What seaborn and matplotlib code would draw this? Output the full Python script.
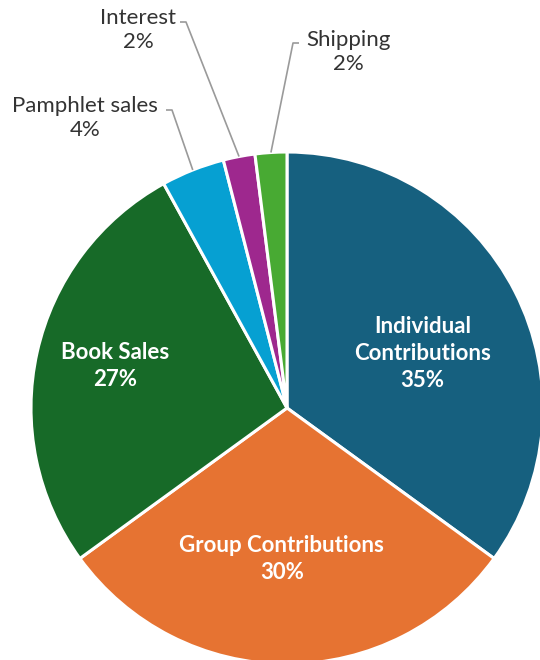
import numpy as np
import matplotlib
matplotlib.use("Agg")
import matplotlib.pyplot as plt
import seaborn as sns

# Data
categories = ["Individual\nContributions", "Group Contributions", "Book Sales",
              "Pamphlet sales", "Interest", "Shipping"]
shares = [35, 30, 27, 4, 2, 2]
colors = ["#16607f", "#e67332", "#176a28", "#06a0d2", "#9e288e", "#48aa33"]

sns.set_theme(style="white")
plt.rcParams["font.family"] = ["Lato", "DejaVu Sans"]

fig = plt.figure(figsize=(5.4, 6.6), dpi=100)
ax = fig.add_axes([0, 0, 1, 1])

cx, cy, r = 287, 252, 256
wedges, _ = ax.pie(shares, colors=colors, startangle=90, counterclock=False,
                   center=(cx, cy), radius=r, frame=True,
                   wedgeprops=dict(edgecolor="white", linewidth=2.2))
ax.set_xlim(0, 540)
ax.set_ylim(0, 660)
ax.set_aspect("equal")
ax.axis("off")

# inside labels: (radial fraction, angle tweak in degrees)
inside = {0: (0.57, -5), 1: (0.59, -2), 2: (0.69, -1)}
for i, (frac, tweak) in inside.items():
    w = wedges[i]
    ang = np.deg2rad((w.theta1 + w.theta2) / 2 + tweak)
    ax.text(cx + frac * r * np.cos(ang), cy + frac * r * np.sin(ang),
            f"{categories[i]}\n{shares[i]}%", ha="center", va="center",
            color="white", fontsize=16, fontweight="bold", linespacing=1.35)

# outside labels with leader lines: (elbow x, elbow y, text x, text y, side)
outside = {3: (172, 550, 85, 542, -1),
           4: (186, 638, 138, 630, -1),
           5: (293, 617, 348, 608, 1)}
for i, (ex, ey, tx, ty, side) in outside.items():
    w = wedges[i]
    ang = np.deg2rad((w.theta1 + w.theta2) / 2)
    sx, sy = cx + r * np.cos(ang), cy + r * np.sin(ang)
    ax.plot([sx, ex, ex + side * 6], [sy, ey, ey], color="#9a9a9a", lw=1.2,
            solid_capstyle="butt")
    ax.text(tx, ty, f"{categories[i]}\n{shares[i]}%", ha="center", va="center",
            color="#333333", fontsize=16, linespacing=1.25)

fig.savefig("out.png", dpi=100)
